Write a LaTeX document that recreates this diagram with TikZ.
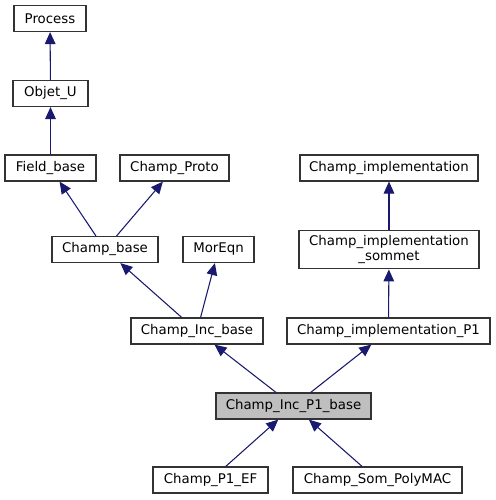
\documentclass[tikz,border=0pt]{standalone}
\usepackage{fontspec}
\setmainfont{DejaVu Sans}
\usepackage{xcolor}
\usepackage{tikz}
\usetikzlibrary{positioning}
\usetikzlibrary{arrows.meta}

\definecolor{edgeblue}{RGB}{25,25,112}
\definecolor{boxgray}{RGB}{191,191,191}

\tikzset{
  cls/.style={draw=black!80,line width=0.9pt,fill=white,inner sep=0pt,
    align=center,minimum height=19.5pt,font=\fontsize{10}{11}\selectfont},
  wd/.style={minimum width={#1*0.75pt}}
}

\begin{document}
\begin{tikzpicture}[x=0.75pt,y=-0.75pt,->,>={Triangle[length=9pt,width=8pt]},
  every edge/.style={draw=edgeblue,line width=0.8pt}]
\useasboundingbox (0,0) rectangle (496,500);

\node[cls,wd=72]  (A) at (50,18.5)    {Process};
\node[cls,wd=75]  (B) at (50.5,93.5)  {Objet\_U};
\node[cls,wd=91]  (C) at (50.5,168)   {Field\_base};
\node[cls,wd=109] (D) at (174.5,168)  {Champ\_Proto};
\node[cls,wd=178] (E) at (389,168)    {Champ\_implementation};
\node[cls,wd=106] (F) at (105,249.5)  {Champ\_base};
\node[cls,wd=71]  (G) at (218.5,249.5) {MorEqn};
\node[cls,wd=180,minimum height=29pt] (H) at (389,249.5) {Champ\_implementation\\\_sommet};
\node[cls,wd=132] (I) at (197,331)    {Champ\_Inc\_base};
\node[cls,wd=203] (J) at (388.5,331)  {Champ\_implementation\_P1};
\node[cls,wd=155,fill=boxgray] (K) at (293.5,406) {Champ\_Inc\_P1\_base};
\node[cls,wd=115] (L) at (210.5,480)  {Champ\_P1\_EF};
\node[cls,wd=169] (M) at (377.5,480)  {Champ\_Som\_PolyMAC};

\path (B) edge (A)
      (C) edge (B)
      (F) edge (C)
      (F) edge (D)
      (H) edge (E)
      (I) edge (F)
      (I) edge (G)
      (J) edge (H)
      (K) edge (I)
      (K) edge (J)
      (L) edge (K)
      (M) edge (K);

\end{tikzpicture}
\end{document}
